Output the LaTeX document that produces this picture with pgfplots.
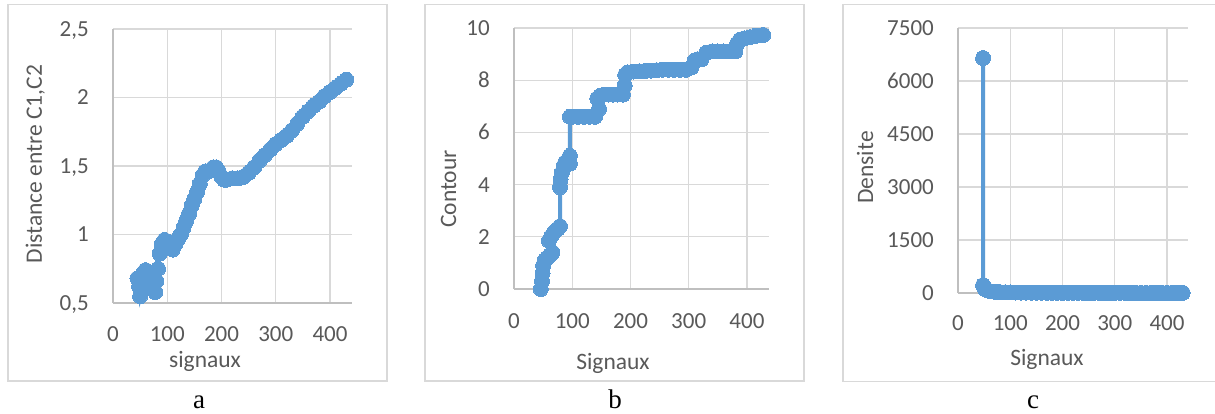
\documentclass[border=0pt]{standalone}
\usepackage{fontspec}
\setmainfont{Carlito}
\newfontfamily\capfont{Liberation Serif}
\usepackage{pgfplots}
\pgfplotsset{compat=1.18}

\definecolor{serie}{HTML}{5B9BD5}
\definecolor{tickgray}{HTML}{595959}
\definecolor{gridgray}{HTML}{D9D9D9}
\definecolor{axisgray}{HTML}{BFBFBF}
\definecolor{framegray}{HTML}{D9D9D9}

\pgfplotsset{
  panel/.style={
    scale only axis, clip=false,
    axis x line*=bottom, axis y line*=left,
    axis line style={draw=axisgray, line width=1.3pt, -},
    grid=major, major grid style={draw=gridgray, line width=1.2pt},
    major tick length=0pt, tick style={draw=none},
    xmin=0, xtick={0,100,200,300,400}, xticklabels={0,100,200,300,400},
    tick label style={font=\fontsize{23}{27}\selectfont, text=tickgray},
    xticklabel style={anchor=center, yshift=-31pt},
    yticklabel style={anchor=base east, inner sep=0pt, xshift=-24pt, yshift=-7.5pt},
    /pgf/number format/assume math mode=true,
  },
  serie/.style={color=serie, line width=4pt, mark=*, mark size=7.5pt,
    mark options={solid, fill=serie, draw=serie, line width=0pt}},
}

\newcommand{\titlefont}{\fontsize{23.5}{28}\selectfont\color{tickgray}}

\begin{document}
\begin{tikzpicture}[x=1pt, y=1pt]
\useasboundingbox (0,0) rectangle (1215,414);
\fill[white] (0,0) rectangle (1215,414);

% chart frames
\draw[framegray, line width=1.2pt] (8,33) rectangle (387,409.5);
\draw[framegray, line width=1.2pt] (425,33) rectangle (804,409.5);
\draw[framegray, line width=1.2pt] (843,32.5) rectangle (1225,409.5);

% (a) distance between C1 and C2
\begin{axis}[panel, at={(113pt,111pt)}, anchor=south west,
  width=238.7pt, height=274pt, xmax=440, ymin=0.5, ymax=2.5,
  ytick={0.5,1,1.5,2,2.5}, yticklabels={{0,5},1,{1,5},2,{2,5}}]
\addplot[serie] coordinates {
(45,0.68) (48,0.62) (50,0.55) (53,0.60) (56,0.72) (60,0.74) (63,0.65)
(66,0.70) (70,0.62) (74,0.60) (78,0.58) (80,0.66) (83,0.75) (86,0.86)
(90,0.93) (95,0.96) (100,0.95) (105,0.91) (110,0.89) (115,0.93) (120,0.97)
(125,1.00) (130,1.05) (135,1.10) (140,1.15) (145,1.21) (150,1.26) (155,1.31)
(160,1.37) (165,1.43) (170,1.46) (175,1.46) (180,1.47) (185,1.49) (190,1.49)
(195,1.46) (200,1.42) (205,1.40) (210,1.40) (220,1.41) (230,1.41) (240,1.42)
(250,1.45) (260,1.49) (270,1.54) (280,1.58) (290,1.62) (300,1.66) (310,1.69)
(320,1.72) (330,1.76) (340,1.81) (350,1.86) (360,1.90) (370,1.94) (380,1.97)
(390,2.01) (400,2.04) (410,2.07) (420,2.10) (430,2.13)
};
\end{axis}

% (b) contour
\begin{axis}[panel, at={(514pt,125pt)}, anchor=south west,
  width=255.1pt, height=261pt, xmax=438, ymin=0, ymax=10,
  ytick={0,2,4,6,8,10}, yticklabels={0,2,4,6,8,10},
  xticklabel style={yshift=-1pt}]
\addplot[serie] coordinates {
(46,0.0) (48,0.3) (49,0.6) (50,0.9) (53,1.1) (57,1.2) (62,1.3) (66,1.4)
(60,1.85) (65,2.05) (70,2.2) (75,2.3) (79,2.4) (79,3.9) (80,4.2) (82,4.45)
(85,4.7) (88,4.85) (92,4.9) (96,4.8) (96,5.1) (96,6.6) (100,6.6) (110,6.6)
(120,6.6) (130,6.6) (139,6.6) (146,6.9) (143,7.3) (148,7.4) (155,7.45)
(162,7.45) (170,7.45) (178,7.45) (187,7.45) (190,7.8) (191,8.2) (195,8.3)
(205,8.33) (215,8.34) (225,8.35) (235,8.37) (245,8.38) (255,8.4) (265,8.4)
(275,8.4) (285,8.4) (295,8.4) (305,8.5) (310,8.75) (315,8.8) (322,8.8)
(330,9.05) (340,9.1) (350,9.1) (360,9.1) (370,9.1) (380,9.1) (383,9.4)
(388,9.55) (395,9.6) (405,9.65) (415,9.7) (425,9.72) (428,9.73)
};
\end{axis}

% (c) density
\begin{axis}[panel, at={(958pt,121pt)}, anchor=south west,
  width=229.9pt, height=265pt, xmax=440, ymin=0, ymax=7500,
  ytick={0,1500,3000,4500,6000,7500},
  yticklabels={0,1500,3000,4500,6000,7500},
  xticklabel style={yshift=1pt}]
\addplot[serie] coordinates {
(48,6650) (48,220) (50,150) (53,100) (57,70) (62,50) (70,35) (80,25)
(90,18) (100,15) (110,12) (120,10) (130,9) (140,8) (150,7) (160,7)
(170,6) (180,6) (190,5) (200,5) (210,5) (220,4) (230,4) (240,4) (250,4)
(260,3) (270,3) (280,3) (290,3) (300,3) (310,3) (320,3) (330,2) (340,2)
(350,2) (360,2) (370,2) (380,2) (390,2) (400,2) (410,2) (420,2) (430,2)
};
\end{axis}

% axis titles
\node[anchor=base, font=\titlefont] at (205,46) {signaux};
\node[anchor=base, rotate=90, font=\titlefont] at (42,250) {Distance entre C1,C2};
\node[anchor=base, font=\titlefont] at (613,44) {Signaux};
\node[anchor=base, rotate=90, font=\titlefont] at (456,225) {Contour};
\node[anchor=base, font=\titlefont] at (1047,48) {Signaux};
\node[anchor=base, rotate=90, font=\titlefont] at (873,246.5) {Densite};

% panel captions
\node[anchor=base, font=\capfont\fontsize{27}{32}\selectfont] at (199,5) {a};
\node[anchor=base, font=\capfont\fontsize{27}{32}\selectfont] at (615,5) {b};
\node[anchor=base, font=\capfont\fontsize{27}{32}\selectfont] at (1033,5) {c};
\end{tikzpicture}
\end{document}
